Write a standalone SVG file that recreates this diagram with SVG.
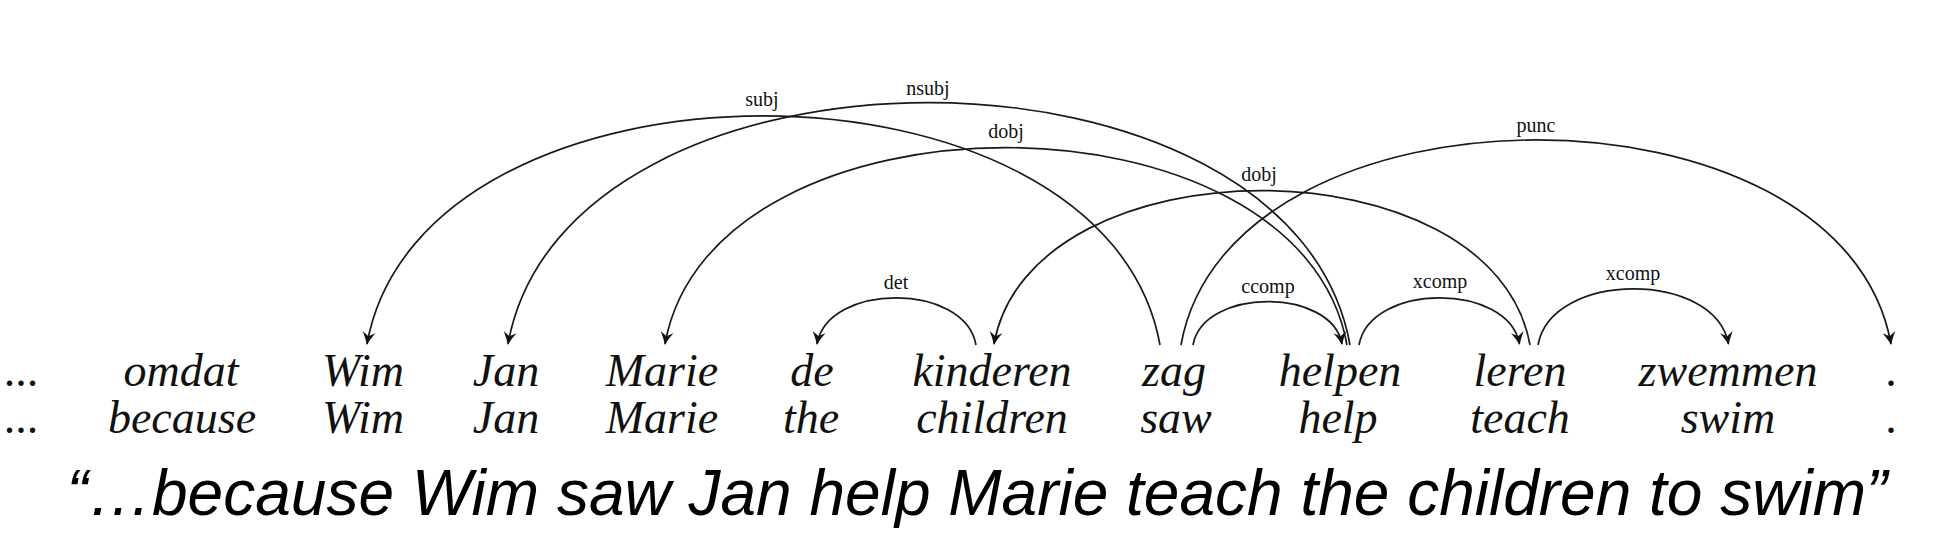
<svg xmlns="http://www.w3.org/2000/svg" width="1960" height="552" viewBox="0 0 1960 552">
<style>
.w{font-family:"Liberation Serif","Times New Roman",serif;font-style:italic;font-size:46px;fill:#111;text-anchor:middle}
.d{font-family:"Liberation Serif","Times New Roman",serif;font-size:46px;fill:#111;text-anchor:middle}
.l{font-family:"Liberation Serif","Times New Roman",serif;font-size:20px;fill:#111;text-anchor:middle}
.cap{font-family:"Liberation Sans",Arial,sans-serif;font-style:italic;font-size:64px;fill:#000;text-anchor:middle}
.arc{fill:none;stroke:#1a1a1a;stroke-width:1.7}
</style>
<defs>
<marker id="ah" viewBox="-14 -8 16 16" refX="0" refY="0" markerWidth="16" markerHeight="16" markerUnits="userSpaceOnUse" orient="auto">
<path d="M1,0 C-3,-1.5 -8,-4 -12,-6.5 L-8,0 L-12,6.5 C-8,4 -3,1.5 1,0 Z" fill="#111"/>
</marker>
</defs>
<rect width="1960" height="552" fill="#fff"/>
<g id="connectors">
<path class="arc" marker-end="url(#ah)" d="M1160,345 C1105,39.7 422,39.7 367,344"/>
<path class="arc" marker-end="url(#ah)" d="M1350,345 C1292,22 566,22 508,344"/>
<path class="arc" marker-end="url(#ah)" d="M1347,345 C1300,82 712,82 665,344"/>
<path class="arc" marker-end="url(#ah)" d="M1530,345 C1493,139.3 1031,139.3 994,344"/>
<path class="arc" marker-end="url(#ah)" d="M1181,345 C1230,71.7 1842,71.7 1891,344"/>
<path class="arc" marker-end="url(#ah)" d="M976,345 C965,282.3 828,282.3 817,344"/>
<path class="arc" marker-end="url(#ah)" d="M1193,345 C1203.4,287.3 1331.6,287.3 1342,344"/>
<path class="arc" marker-end="url(#ah)" d="M1359,345 C1370.3,282.3 1508.2,282.3 1519.5,344"/>
<path class="arc" marker-end="url(#ah)" d="M1538,345 C1551.4,270.3 1715.1,270.3 1728.5,344"/>
<text class="l" x="762" y="106">subj</text>
<text class="l" x="928" y="95">nsubj</text>
<text class="l" x="1006" y="138">dobj</text>
<text class="l" x="1259" y="181">dobj</text>
<text class="l" x="1536" y="132">punc</text>
<text class="l" x="896" y="289">det</text>
<text class="l" x="1268" y="293">ccomp</text>
<text class="l" x="1440" y="288">xcomp</text>
<text class="l" x="1633" y="280">xcomp</text>
</g>
<g id="n0"><text class="d" x="21" y="386">...</text><text class="d" x="21" y="433">...</text></g>
<g id="n1"><text class="w" x="181" y="386">omdat</text><text class="w" x="182" y="433">because</text></g>
<g id="n2"><text class="w" x="363" y="386">Wim</text><text class="w" x="363" y="433">Wim</text></g>
<g id="n3"><text class="w" x="506" y="386">Jan</text><text class="w" x="506" y="433">Jan</text></g>
<g id="n4"><text class="w" x="662" y="386">Marie</text><text class="w" x="662" y="433">Marie</text></g>
<g id="n5"><text class="w" x="812" y="386">de</text><text class="w" x="811" y="433">the</text></g>
<g id="n6"><text class="w" x="992" y="386">kinderen</text><text class="w" x="992" y="433">children</text></g>
<g id="n7"><text class="w" x="1174" y="386">zag</text><text class="w" x="1176" y="433">saw</text></g>
<g id="n8"><text class="w" x="1340" y="386">helpen</text><text class="w" x="1338" y="433">help</text></g>
<g id="n9"><text class="w" x="1520" y="386">leren</text><text class="w" x="1520" y="433">teach</text></g>
<g id="n10"><text class="w" x="1728" y="386">zwemmen</text><text class="w" x="1728" y="433">swim</text></g>
<g id="n11"><text class="d" x="1891" y="386">.</text><text class="d" x="1891" y="433">.</text></g>
<g id="caption"><text class="cap" x="977" y="515">“…because Wim saw Jan help Marie teach the children to swim”</text></g>
</svg>
